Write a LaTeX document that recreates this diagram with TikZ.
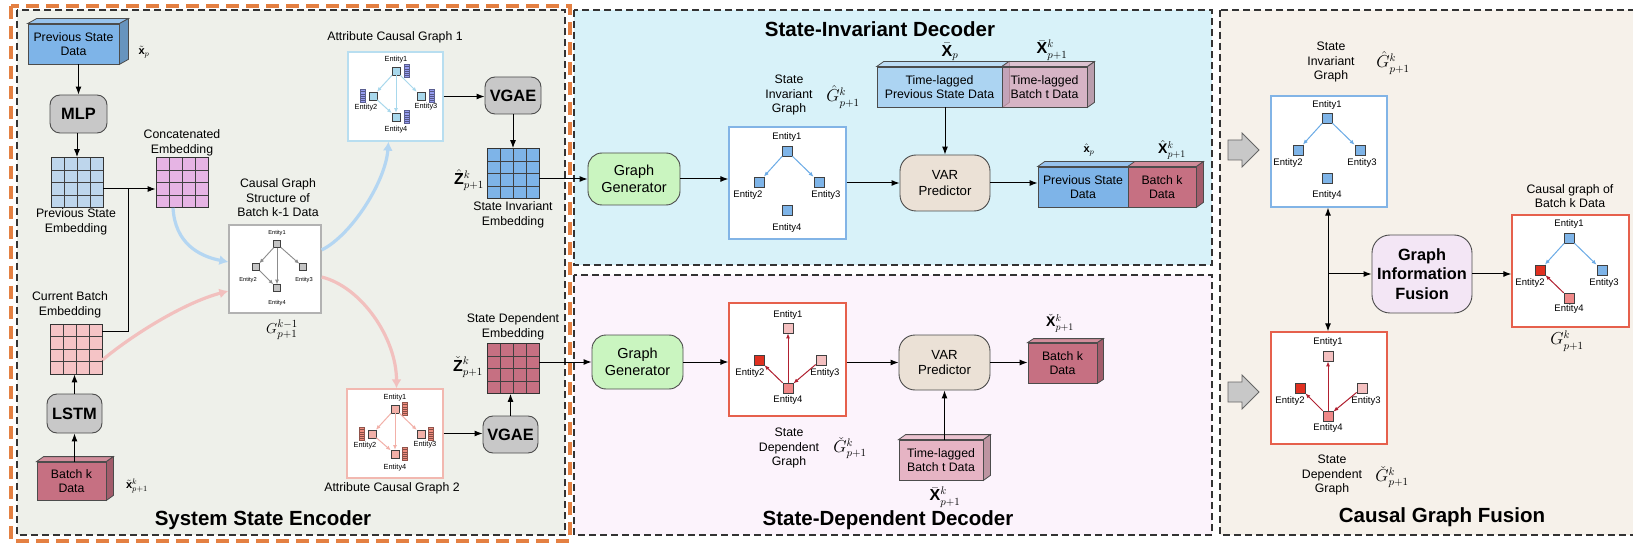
\documentclass[tikz,border=0pt]{standalone}
\usepackage{fontspec}
\setmainfont{Liberation Sans}
\usepackage{amsmath,amssymb}
\usepackage{tikz}
\usetikzlibrary{arrows.meta,shapes.misc}
\definecolor{encbg}{RGB}{238,240,234}
\definecolor{invbg}{RGB}{216,242,249}
\definecolor{depbg}{RGB}{252,243,252}
\definecolor{fusbg}{RGB}{246,241,234}
\definecolor{frameorange}{RGB}{228,128,66}
\definecolor{datablue}{RGB}{126,180,232}
\definecolor{datamauve}{RGB}{198,112,130}
\definecolor{lagblue}{RGB}{172,212,242}
\definecolor{lagpink}{RGB}{214,160,180}
\definecolor{lagpinkb}{RGB}{230,180,196}
\definecolor{boxgrey}{RGB}{200,200,200}
\definecolor{gengreen}{RGB}{202,245,192}
\definecolor{varbeige}{RGB}{235,225,214}
\definecolor{fuselav}{RGB}{243,230,245}
\definecolor{embblue}{RGB}{190,214,236}
\definecolor{embviolet}{RGB}{230,180,228}
\definecolor{embpink}{RGB}{245,196,198}
\definecolor{entgrey}{RGB}{196,196,196}
\definecolor{attblue}{RGB}{168,216,236}
\definecolor{attborder}{RGB}{184,222,240}
\definecolor{attpink}{RGB}{242,176,168}
\definecolor{attpinkborder}{RGB}{242,184,176}
\definecolor{featblue}{RGB}{150,156,240}
\definecolor{featred}{RGB}{240,140,125}
\definecolor{invline}{RGB}{106,170,230}
\definecolor{invborder}{RGB}{130,180,230}
\definecolor{depborder}{RGB}{230,96,76}
\definecolor{entred}{RGB}{224,48,32}
\definecolor{entlpink}{RGB}{244,192,192}
\definecolor{entsalmon}{RGB}{240,136,136}
\definecolor{darkredline}{RGB}{176,32,48}
\definecolor{curveblue}{RGB}{180,214,242}
\definecolor{curvepink}{RGB}{242,192,190}

\tikzset{
  panel/.style={draw=black!80, line width=1.2pt, dash pattern=on 7pt off 4pt},
  lbl/.style={align=center, inner sep=0pt, font=\fontsize{12.3}{14.5}\selectfont},
  paneltitle/.style={inner sep=0pt, font=\bfseries\fontsize{20.5}{22}\selectfont},
  mathlbl/.style={inner sep=0pt, font=\fontsize{16}{16}\selectfont},
  smath/.style={inner sep=0pt, font=\fontsize{11}{11}\selectfont},
  procbox/.style={draw=black!70, line width=0.9pt, rounded corners=10pt, align=center, inner sep=0pt},
  boldproc/.style={procbox, fill=boxgrey, font=\bfseries\fontsize{16.4}{18}\selectfont},
  datacube/.style={draw=black!70, line width=0.8pt, align=center, inner sep=0pt, font=\fontsize{12.3}{14.5}\selectfont},
  cubeface/.style={draw=black!70, line width=0.8pt},
  graphbox/.style={chamfered rectangle, chamfered rectangle sep=6pt, draw, fill=white, line width=1.3pt, inner sep=0pt},
  ent/.style={draw=black!75, line width=0.7pt, inner sep=0pt, minimum size=10pt},
  entlbl/.style={inner sep=0pt, font=\fontsize{9.5}{10}\selectfont},
  featbar/.style={draw=#1!60!black, fill=#1, line width=0.5pt, minimum width=5pt, minimum height=13pt, inner sep=0pt,
    path picture={\foreach \k in {1,...,5}{\draw[#1!55!black, line width=0.4pt]
      ([yshift=-\k*2.17pt]path picture bounding box.north west) -- ([yshift=-\k*2.17pt]path picture bounding box.north east);}}},
  flow/.style={-{Latex[length=8pt,width=6pt]}, line width=1pt},
  earrow/.style={-{Latex[length=5pt,width=4pt]}, line width=1pt},
  curvy/.style={-{Latex[length=9pt,width=10pt]}, line width=3.2pt},
  embgrid/.style={draw=black!80, line width=0.7pt, minimum width=52pt, minimum height=50pt, inner sep=0pt,
    path picture={\foreach \k in {1,2,3}{
      \draw[black!75, line width=0.6pt] ([xshift=\k*13pt]path picture bounding box.north west) -- ([xshift=\k*13pt]path picture bounding box.south west);
      \draw[black!75, line width=0.6pt] ([yshift=-\k*12.5pt]path picture bounding box.north west) -- ([yshift=-\k*12.5pt]path picture bounding box.north east);}}},
  blockarrow/.style={draw=black!60, fill=boxgrey, line width=0.8pt},
}

% top and side faces of a data block, #2 = node, #3 = colour, #4 = depth
\newcommand{\cubetop}[4][]{%
  \filldraw[cubeface, fill=#3!80!white, #1] (#2.north west) -- ++(#4) -- ([shift={(#4)}]#2.north east) -- (#2.north east) -- cycle;}
\newcommand{\cubefaces}[4][]{%
  \cubetop[#1]{#2}{#3}{#4}
  \filldraw[cubeface, fill=#3!82!black, #1] (#2.north east) -- ++(#4) -- ([shift={(#4)}]#2.south east) -- (#2.south east) -- cycle;}

\begin{document}
\begin{tikzpicture}[x=1pt,y=-1pt]
\useasboundingbox (0,0) rectangle (1633,545);
\fill[white] (0,0) rectangle (1633,545);

% Panels
\filldraw[panel, fill=encbg] (17,10) rectangle (565,535);
\filldraw[panel, fill=invbg] (574,10) rectangle (1212,265);
\filldraw[panel, fill=depbg] (574,275) rectangle (1212,535);
\filldraw[panel, fill=fusbg] (1220,10) rectangle (1645,535);
\draw[frameorange, line width=4.5pt, dash pattern=on 13pt off 7pt] (11,6) rectangle (570,541);

% ---------------- System State Encoder ----------------
\node[datacube, fill=datablue, minimum width=91pt, minimum height=40pt] (prevdata) at (73.5,44) {Previous State\\Data};
\cubefaces{prevdata}{datablue}{9,-5}
\node[smath] (prevdatalbl) at (144,52) {$\tilde{\mathbf{x}}_p$};
\node[boldproc, minimum width=57pt, minimum height=38pt] (mlp) at (78.5,114) {MLP};
\node[embgrid, fill=embblue] (prevemb) at (77,182.5) {};
\node[lbl] (prevemblbl) at (76,222) {Previous State\\Embedding};
\node[embgrid, fill=embviolet] (catemb) at (182,182.5) {};
\node[lbl] (catemblbl) at (182,143) {Concatenated\\Embedding};
\node[lbl] (curemblbl) at (70,305) {Current Batch\\Embedding};
\node[embgrid, fill=embpink] (curemb) at (76,349) {};
\node[boldproc, minimum width=55pt, minimum height=39pt] (lstm) at (74.5,413.5) {LSTM};
\node[datacube, fill=datamauve, minimum width=69pt, minimum height=38pt] (batchdata) at (71.5,481) {Batch k\\Data};
\cubefaces{batchdata}{datamauve}{7,-5}
\node[smath] (batchdatalbl) at (137,486) {$\tilde{\mathbf{x}}^k_{p+1}$};
\node[paneltitle] (enctitle) at (263,520) {System State Encoder};

\draw[flow] (mlp.north |- prevdata.south) -- (mlp.north);
\draw[flow] (prevemb.north |- mlp.south) -- (prevemb.north);
\draw[flow] (lstm.north) -- (lstm.north |- curemb.south);
\draw[flow] (lstm.south |- batchdata.north) -- (lstm.south);
% concatenation
\coordinate (catjoin) at (128,189);
\draw[flow] ([yshift=-6.5pt]prevemb.east) -- ([yshift=-6.5pt]catemb.west);
\draw[line width=1pt] ([yshift=18pt]curemb.east) -| (catjoin);

% Causal graph structure of batch k-1
\node[graphbox, draw=black!30, minimum width=92pt, minimum height=88pt] (cgraph) at (275,269) {};
\node[lbl] (cgraphlbl) at (278,198) {Causal Graph\\Structure of\\Batch k-1 Data};
\node[mathlbl, font=\fontsize{15}{15}\selectfont] (cgraphG) at (282,330) {$G^{k-1}_{p+1}$};
\foreach \n/\x/\y in {1/277/244, 2/256/267, 3/303/267, 4/277/288}
  \node[ent, fill=entgrey, minimum size=7pt, line width=0.5pt] (cg\n) at (\x,\y) {};
\foreach \n/\x/\y in {1/277/233, 2/248/280, 3/304/280, 4/277/303}
  \node[entlbl, font=\fontsize{5.7}{6}\selectfont] (cgl\n) at (\x,\y) {Entity\n};
\foreach \a/\b in {1/2, 1/3, 1/4, 2/4}
  \draw[-{Latex[length=4.5pt,width=4pt]}, black!45, line width=0.9pt] (cg\a) -- (cg\b);

% Attribute causal graph 1
\node[graphbox, draw=attborder, minimum width=95pt, minimum height=89pt] (att1) at (395.5,96.5) {};
\node[lbl] (att1lbl) at (395,37) {Attribute Causal Graph 1};
\foreach \n/\x/\y in {1/396/71, 2/373/96, 3/421/96, 4/396/117}
  \node[ent, fill=attblue, minimum size=8pt, line width=0.6pt] (ga\n) at (\x,\y) {};
\foreach \n/\x/\y in {1/396/60, 2/366/108, 3/426/107, 4/396/130}
  \node[entlbl, font=\fontsize{7.4}{8}\selectfont] (gal\n) at (\x,\y) {Entity\n};
\foreach \n/\x/\y in {1/407/71, 2/363/96, 3/432/96, 4/407/117}
  \node[featbar=featblue] (gaf\n) at (\x,\y) {};
\foreach \a/\b in {1/2, 1/3, 1/4, 2/4}
  \draw[-{Latex[length=4.5pt,width=4pt]}, attblue, line width=1pt] (ga\a) -- (ga\b);

\node[boldproc, minimum width=56pt, minimum height=37pt] (vgae1) at (513,95.5) {VGAE};
\node[embgrid, fill=datablue] (invemb) at (513,173.5) {};
\node[mathlbl] (invembZ) at (469,180) {$\hat{\mathbf{Z}}^k_{p+1}$};
\node[lbl] (invemblbl) at (513,215) {State Invariant\\Embedding};
\draw[flow] (att1.east) -- (att1.east -| vgae1.west);
\draw[flow] (vgae1.south) -- (invemb.north);

% Attribute causal graph 2
\node[graphbox, draw=attpinkborder, minimum width=96pt, minimum height=89pt] (att2) at (395,433.5) {};
\node[lbl] (att2lbl) at (392,488) {Attribute Causal Graph 2};
\foreach \n/\x/\y in {1/395/409, 2/372/434, 3/421/434, 4/395/454}
  \node[ent, fill=attpink, minimum size=8pt, line width=0.6pt] (gb\n) at (\x,\y) {};
\foreach \n/\x/\y in {1/395/398, 2/365/446, 3/425/445, 4/395/468}
  \node[entlbl, font=\fontsize{7.4}{8}\selectfont] (gbl\n) at (\x,\y) {Entity\n};
\foreach \n/\x/\y in {1/405/409, 2/362/434, 3/431/434, 4/405/454}
  \node[featbar=featred] (gbf\n) at (\x,\y) {};
\foreach \a/\b in {1/2, 1/3, 1/4, 2/4}
  \draw[-{Latex[length=4.5pt,width=4pt]}, attpink, line width=1pt] (gb\a) -- (gb\b);

\node[boldproc, minimum width=55pt, minimum height=37pt] (vgae2) at (510.5,434.5) {VGAE};
\node[embgrid, fill=datamauve] (depemb) at (513,368.5) {};
\node[mathlbl] (depembZ) at (468,367) {$\check{\mathbf{Z}}^k_{p+1}$};
\node[lbl] (depemblbl) at (513,327) {State Dependent\\Embedding};
\draw[flow] (att2.east) -- (att2.east -| vgae2.west);
\draw[flow] (vgae2.north) -- (vgae2.north |- depemb.south);

% thick curved links
\draw[curvy, curveblue] ([xshift=-9pt]catemb.south) .. controls +(2,35) and +(-30,-6) .. ([yshift=7pt]cgraph.west);
\draw[curvy, curvepink] ([yshift=-11pt]curemb.east) .. controls +(30,-25) and +(-45,12) .. ([yshift=-22pt]cgraph.west);
\draw[curvy, curveblue] ([yshift=19pt]cgraph.east) .. controls +(30,-15) and +(-3,40) .. ([xshift=-7pt]att1.south);
\draw[curvy, curvepink] ([yshift=-8pt]cgraph.east) .. controls +(40,10) and +(0,-50) .. ([xshift=1.5pt]att2.north);

% ---------------- State-Invariant Decoder ----------------
\node[paneltitle] (invtitle) at (880,29) {State-Invariant Decoder};
\node[procbox, fill=gengreen, minimum width=92pt, minimum height=52pt, rounded corners=14pt,
  font=\fontsize{14.5}{17}\selectfont] (gen1) at (634,179) {Graph\\Generator};
\node[graphbox, draw=invborder, minimum width=117pt, minimum height=112pt] (sig1) at (787.5,183) {};
\node[lbl] (sig1lbl) at (789,95) {State\\Invariant\\Graph};
\node[mathlbl] (sig1G) at (843,97) {$\hat{G}^k_{p+1}$};
\foreach \n/\x/\y in {1/787/151, 2/759/182, 3/819/182, 4/787/210}
  \node[ent, fill=datablue] (gc\n) at (\x,\y) {};
\foreach \n/\x/\y in {1/787/137, 2/748/195, 3/826/195, 4/787/228}
  \node[entlbl] (gcl\n) at (\x,\y) {Entity\n};
\foreach \a/\b in {1/2, 1/3}
  \draw[earrow, invline] (gc\a) -- (gc\b);

\node[datacube, fill=lagblue, minimum width=125pt, minimum height=40pt] (tlprev) at (939.5,87) {Time-lagged\\Previous State Data};
\cubefaces{tlprev}{lagblue}{7,-5}
\node[datacube, fill=lagpink, fill opacity=0.75, text opacity=1, minimum width=85pt, minimum height=40pt] (tlbatch) at (1044.5,87) {Time-lagged\\Batch t Data};
\cubefaces[fill opacity=0.75]{tlbatch}{lagpink}{7,-5}
\node[mathlbl] (tlprevlbl) at (950,52) {$\bar{\mathbf{X}}_p$};
\node[mathlbl] (tlbatchlbl) at (1052,50) {$\bar{\mathbf{X}}^k_{p+1}$};

\node[procbox, fill=varbeige, minimum width=90pt, minimum height=56pt, rounded corners=16pt,
  font=\fontsize{13.2}{15.5}\selectfont] (var1) at (945,183) {VAR\\Predictor};
\node[datacube, fill=datablue, minimum width=90pt, minimum height=40pt] (outprev) at (1083,187) {Previous State\\Data};
\cubetop{outprev}{datablue}{7,-5}
\node[datacube, fill=datamauve, minimum width=68pt, minimum height=40pt] (outbatch) at (1162,187) {Batch k\\Data};
\cubefaces{outbatch}{datamauve}{7,-5}
\node[smath] (outprevlbl) at (1089,150) {$\hat{\mathbf{x}}_p$};
\node[mathlbl, font=\fontsize{14}{14}\selectfont] (outbatchlbl) at (1172,150) {$\hat{\mathbf{X}}^k_{p+1}$};

\draw[flow] (invemb.east |- gen1.west) -- (gen1.west);
\draw[flow] (gen1.east) -- (gen1.east -| sig1.west);
\draw[flow] (sig1.east) -- (sig1.east -| var1.west);
\draw[flow] (var1.north |- tlprev.south) -- (var1.north);
\draw[flow] (var1.east) -- (var1.east -| outprev.west);

% ---------------- State-Dependent Decoder ----------------
\node[paneltitle] (deptitle) at (888,520) {State-Dependent Decoder};
\node[procbox, fill=gengreen, minimum width=91pt, minimum height=54pt, rounded corners=14pt,
  font=\fontsize{14.5}{17}\selectfont] (gen2) at (637.5,362) {Graph\\Generator};
\node[graphbox, draw=depborder, minimum width=117pt, minimum height=113pt] (sdg1) at (787.5,359.5) {};
\foreach \n/\x/\y/\c in {1/788/328/entlpink, 2/759/360/entred, 3/821/360/entlpink, 4/788/388/entsalmon}
  \node[ent, fill=\c] (gd\n) at (\x,\y) {};
\foreach \n/\x/\y in {1/788/315, 2/750/373, 3/825/373, 4/788/400}
  \node[entlbl] (gdl\n) at (\x,\y) {Entity\n};
\foreach \a/\b in {4/1, 4/2, 3/4}
  \draw[earrow, darkredline] (gd\a) -- (gd\b);
\node[lbl] (sdg1lbl) at (789,448) {State\\Dependent\\Graph};
\node[mathlbl] (sdg1G) at (850,448) {$\check{G}^k_{p+1}$};

\node[procbox, fill=varbeige, minimum width=91pt, minimum height=55pt, rounded corners=16pt,
  font=\fontsize{13.2}{15.5}\selectfont] (var2) at (944.5,362.5) {VAR\\Predictor};
\node[datacube, fill=datamauve, minimum width=69pt, minimum height=40pt] (outbatch2) at (1062.5,363) {Batch k\\Data};
\cubefaces{outbatch2}{datamauve}{6,-4}
\node[mathlbl, font=\fontsize{14}{14}\selectfont] (outbatch2lbl) at (1060,323) {$\check{\mathbf{X}}^k_{p+1}$};
\node[datacube, fill=lagpinkb, minimum width=84pt, minimum height=40pt] (tlbatch2) at (941,460) {Time-lagged\\Batch t Data};
\cubefaces{tlbatch2}{lagpinkb}{7,-5}
\node[mathlbl] (tlbatch2lbl) at (945,497) {$\bar{\mathbf{X}}^k_{p+1}$};

\draw[flow] (depemb.east |- gen2.west) -- (gen2.west);
\draw[flow] (gen2.east) -- (gen2.east -| sdg1.west);
\draw[flow] (sdg1.east |- var2.west) -- (var2.west);
\draw[flow] (var2.south |- tlbatch2.north) -- (var2.south);
\draw[flow] (var2.east) -- (var2.east -| outbatch2.west);

% ---------------- Causal Graph Fusion ----------------
\node[paneltitle] (fustitle) at (1442,517) {Causal Graph Fusion};
% big grey block arrows
\coordinate (barrow1) at (1228,150);
\coordinate (barrow2) at (1228,392);
\foreach \b in {barrow1, barrow2}
  \filldraw[blockarrow] ([yshift=10pt]\b) -- ++(14,0) -- ++(0,-7) -- ++(17,17) -- ++(-17,17) -- ++(0,-7) -- ++(-14,0) -- cycle;

\node[graphbox, draw=invborder, minimum width=116pt, minimum height=111pt] (sig2) at (1329,151.5) {};
\node[lbl] (sig2lbl) at (1331,62) {State\\Invariant\\Graph};
\node[mathlbl] (sig2G) at (1393,63) {$\hat{G}^k_{p+1}$};
\foreach \n/\x/\y in {1/1327/118, 2/1298/150, 3/1360/150, 4/1327/178}
  \node[ent, fill=datablue] (ge\n) at (\x,\y) {};
\foreach \n/\x/\y in {1/1327/105, 2/1288/163, 3/1362/163, 4/1327/195}
  \node[entlbl] (gel\n) at (\x,\y) {Entity\n};
\foreach \a/\b in {1/2, 1/3}
  \draw[earrow, invline] (ge\a) -- (ge\b);

\node[graphbox, draw=depborder, minimum width=116pt, minimum height=112pt] (sdg2) at (1329,388) {};
\node[lbl] (sdg2lbl) at (1332,475) {State\\Dependent\\Graph};
\node[mathlbl] (sdg2G) at (1392,477) {$\check{G}^k_{p+1}$};
\foreach \n/\x/\y/\c in {1/1328/356/entlpink, 2/1300/388/entred, 3/1362/388/entlpink, 4/1328/416/entsalmon}
  \node[ent, fill=\c] (gf\n) at (\x,\y) {};
\foreach \n/\x/\y in {1/1328/342, 2/1290/401, 3/1366/401, 4/1328/428}
  \node[entlbl] (gfl\n) at (\x,\y) {Entity\n};
\foreach \a/\b in {4/1, 4/2, 3/4}
  \draw[earrow, darkredline] (gf\a) -- (gf\b);

\node[procbox, fill=fuselav, minimum width=100pt, minimum height=78pt, rounded corners=18pt,
  font=\bfseries\fontsize{16.3}{19.5}\selectfont] (fusion) at (1422,274) {Graph\\Information\\Fusion};

\node[graphbox, draw=depborder, minimum width=117pt, minimum height=112pt] (final) at (1570.5,271) {};
\node[lbl] (finallbl) at (1570,196) {Causal graph of\\Batch k Data};
\node[mathlbl] (finalG) at (1567,341) {$G^k_{p+1}$};
\foreach \n/\x/\y/\c in {1/1569/238/datablue, 2/1540/270/entred, 3/1602/270/datablue, 4/1569/298/entsalmon}
  \node[ent, fill=\c] (gg\n) at (\x,\y) {};
\foreach \n/\x/\y in {1/1569/224, 2/1530/283, 3/1604/283, 4/1569/309}
  \node[entlbl] (ggl\n) at (\x,\y) {Entity\n};
\draw[earrow, invline] (gg1) -- (gg2);
\draw[earrow, invline] (gg1) -- (gg3);
\draw[earrow, darkredline] (gg4) -- (gg2);

\coordinate (fork) at (1328,274);
\draw[flow] (fork) -- (fork |- sig2.south);
\draw[flow] (fork) -- (fork |- sdg2.north);
\draw[flow] (fork) -- (fusion.west);
\draw[flow] (fusion.east) -- (fusion.east -| final.west);
\end{tikzpicture}
\end{document}
